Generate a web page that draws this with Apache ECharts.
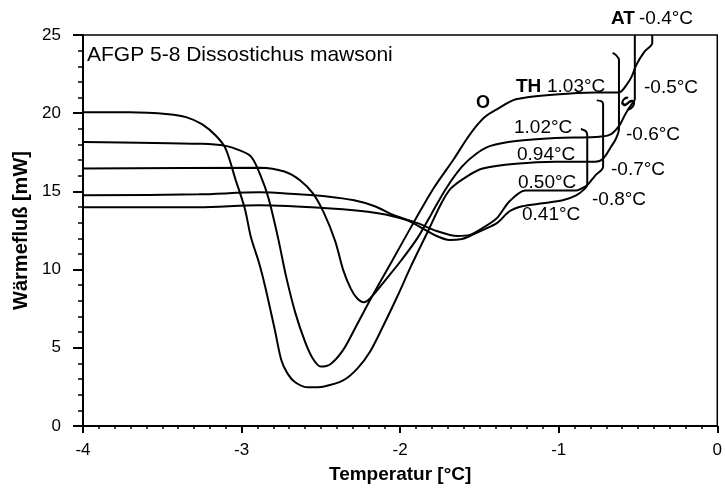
<!DOCTYPE html>
<html><head><meta charset="utf-8">
<script src="https://cdn.jsdelivr.net/npm/echarts@6/dist/echarts.min.js"></script>
<style>html,body{margin:0;padding:0;background:#fff}#c{width:725px;height:489px}</style>
</head><body><div id="c"></div>
<script>
// Axis ranges / ticks
const xRange = [-4, 0];
const yRange = [0, 25];
const xInterval = 1;
const yInterval = 5;

// Curve: hold -0.6 °C (TH 0.94 °C), baseline ~20 mW
const curveA = [[-4.00,20.06],[-3.71,20.06],[-3.46,19.94],[-3.35,19.75],[-3.25,19.30],[-3.16,18.54],[-3.10,17.72],[-3.04,15.82],[-2.98,13.92],[-2.94,12.03],[-2.89,10.44],[-2.85,8.86],[-2.79,6.14],[-2.75,4.24],[-2.71,3.35],[-2.66,2.78],[-2.58,2.47],[-2.48,2.53],[-2.36,2.91],[-2.27,3.67],[-2.19,4.75],[-2.11,6.33],[-2.02,8.23],[-1.93,10.25],[-1.83,12.34],[-1.74,14.24],[-1.68,15.19],[-1.58,15.95],[-1.48,16.46],[-1.27,16.77],[-1.02,16.90],[-0.77,16.90],[-0.72,17.09],[-0.67,17.85],[-0.64,18.35],[-0.62,18.99],[-0.62,23.42],[-0.64,23.73],[-0.66,23.86]];
// Curve: hold -0.4 °C (TH 1.03 °C), baseline ~18 mW
const curveB = [[-4.00,18.16],[-3.25,18.04],[-3.10,17.91],[-3.02,17.66],[-2.94,17.22],[-2.88,16.01],[-2.83,14.56],[-2.77,12.03],[-2.72,9.60],[-2.66,7.20],[-2.60,5.40],[-2.55,4.30],[-2.50,3.80],[-2.44,3.95],[-2.36,4.85],[-2.28,6.33],[-2.18,8.23],[-2.05,10.57],[-1.91,13.10],[-1.79,15.19],[-1.66,17.09],[-1.58,18.35],[-1.52,19.18],[-1.46,19.81],[-1.39,20.25],[-1.27,20.89],[-1.02,21.20],[-0.77,21.33],[-0.62,21.33],[-0.57,21.84],[-0.54,22.34],[-0.51,23.10],[-0.46,23.92],[-0.41,24.49],[-0.41,25.0]];
// Curve: hold -0.5 °C (TH 1.02 °C), baseline ~16.5 mW
const curveC = [[-4.00,16.46],[-2.88,16.52],[-2.73,16.27],[-2.63,15.70],[-2.55,14.87],[-2.48,13.61],[-2.41,11.84],[-2.36,10.0],[-2.31,8.75],[-2.27,8.15],[-2.23,7.91],[-2.19,8.15],[-2.08,9.49],[-1.99,10.63],[-1.89,12.03],[-1.80,13.61],[-1.71,15.19],[-1.61,16.58],[-1.52,17.41],[-1.43,17.91],[-1.27,18.23],[-1.02,18.42],[-0.77,18.48],[-0.68,18.61],[-0.62,19.18],[-0.58,19.94],[-0.54,20.57],[-0.52,20.89],[-0.52,25.0]];
// Curve: hold -0.7 °C (TH 0.50 °C), baseline ~14.8 mW
const curveD = [[-4.00,14.75],[-3.27,14.81],[-2.89,14.94],[-2.64,14.81],[-2.46,14.68],[-2.29,14.43],[-2.16,14.05],[-2.04,13.48],[-1.89,12.97],[-1.77,12.47],[-1.64,12.15],[-1.56,12.22],[-1.48,12.66],[-1.39,13.29],[-1.31,14.37],[-1.21,15.06],[-1.02,15.06],[-0.89,15.06],[-0.83,15.32],[-0.81,15.51],[-0.77,16.01],[-0.72,16.58],[-0.72,20.57],[-0.73,20.76],[-0.76,20.82]];
// Curve: hold -0.8 °C (TH 0.41 °C), baseline ~14 mW
const curveE = [[-4.00,13.99],[-3.27,13.99],[-2.89,14.11],[-2.46,13.92],[-2.14,13.61],[-1.96,13.16],[-1.83,12.47],[-1.77,12.15],[-1.69,11.90],[-1.61,11.96],[-1.56,12.15],[-1.48,12.53],[-1.39,12.97],[-1.31,13.73],[-1.23,14.05],[-1.10,14.24],[-0.975,14.43],[-0.89,14.75],[-0.84,15.13],[-0.82,15.44],[-0.82,18.61],[-0.83,18.86],[-0.86,18.99]];

const titleText = 'AFGP 5-8 Dissostichus mawsoni';
const xName = 'Temperatur [°C]';
const yName = 'Wärmefluß [mW]';
const holdLabels = ['-0.5°C', '-0.6°C', '-0.7°C', '-0.8°C'];
const thLabels = ['1.02°C', '0.94°C', '0.50°C', '0.41°C'];

const FF = '"Liberation Sans", Arial, Helvetica, sans-serif';
const chart = echarts.init(document.getElementById('c'), null, {renderer: 'canvas'});

function txt(text, x, y, size, bold, extra, align) {
  return Object.assign({
    type: 'text', x: x, y: y, z: 100,
    style: {text: text, fill: '#000', font: (bold ? 'bold ' : '') + size + 'px ' + FF,
            verticalAlign: 'middle', textVerticalAlign: 'middle', align: align || 'left', textAlign: align || 'left'}
  }, extra || {});
}

const lineSeries = [curveA, curveB, curveC, curveD, curveE].map(d => ({
  type: 'line', data: d, symbol: 'none', smooth: 0.3, clip: false,
  lineStyle: {color: '#000', width: 2}, animation: false
}));

chart.setOption({
  animation: false,
  backgroundColor: '#fff',
  grid: {left: 83, right: 2, top: 35, bottom: 59, show: true, borderColor: '#000', borderWidth: 1.5},
  xAxis: {
    type: 'value', min: xRange[0], max: xRange[1], interval: xInterval,
    name: xName, nameLocation: 'middle', nameGap: 39,
    nameTextStyle: {fontFamily: FF, fontWeight: 'bold', fontSize: 19, color: '#000'},
    axisLine: {show: true, onZero: false, lineStyle: {color: '#000', width: 2}},
    axisTick: {show: true, length: 7, lineStyle: {color: '#000', width: 2}},
    minorTick: {show: true, splitNumber: 10, length: 3, lineStyle: {color: '#000', width: 1.5}},
    splitLine: {show: false},
    axisLabel: {fontFamily: FF, fontSize: 17, color: '#000', margin: 16, showMaxLabel: true, showMinLabel: true}
  },
  yAxis: {
    type: 'value', min: yRange[0], max: yRange[1], interval: yInterval,
    name: yName, nameLocation: 'middle', nameGap: 44,
    nameTextStyle: {fontFamily: FF, fontWeight: 'bold', fontSize: 20, color: '#000'},
    axisLine: {show: true, onZero: false, lineStyle: {color: '#000', width: 2}},
    axisTick: {show: true, length: 10, lineStyle: {color: '#000', width: 2}},
    minorTick: {show: true, splitNumber: 5, length: 5, lineStyle: {color: '#000', width: 1.5}},
    splitLine: {show: false},
    axisLabel: {fontFamily: FF, fontSize: 17, color: '#000', margin: 22}
  },
  series: lineSeries,
  graphic: [
    txt(titleText, 87, 55, 21, false),
    txt('AT', 611, 19, 19, true),
    txt('-0.4°C', 639, 19, 19, false),
    txt('TH', 516, 87, 19, true),
    txt('1.03°C', 547, 87, 19, false),
    txt('O', 476, 103, 18, true),
    txt('S', 629, 104, 19, true, {rotation: 0.9}, 'center'),
    txt(thLabels[0], 514, 128, 19, false),
    txt(thLabels[1], 517, 155, 19, false),
    txt(thLabels[2], 518, 183, 19, false),
    txt(thLabels[3], 522, 215, 19, false),
    txt(holdLabels[0], 644, 88, 19, false),
    txt(holdLabels[1], 626, 135, 19, false),
    txt(holdLabels[2], 611, 170, 19, false),
    txt(holdLabels[3], 592, 200, 19, false)
  ]
});
</script></body></html>
